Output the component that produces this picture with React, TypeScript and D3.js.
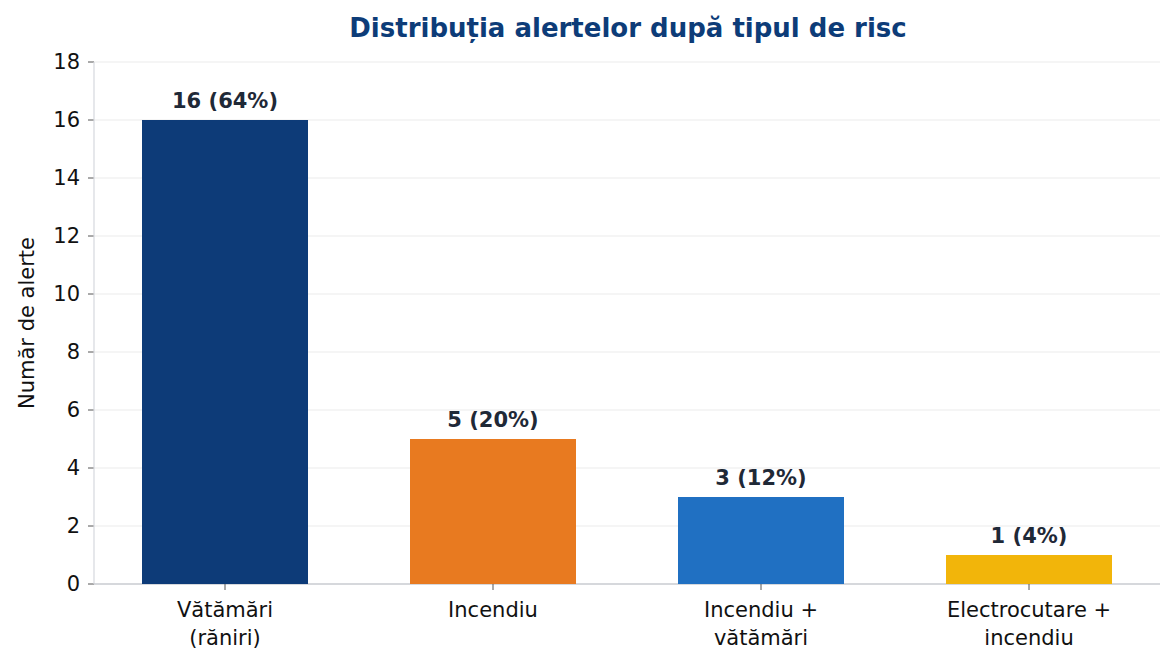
import React from "react";
import * as d3 from "d3";

const categories = [["Vătămări", "(răniri)"], ["Incendiu"], ["Incendiu +", "vătămări"], ["Electrocutare +", "incendiu"]];
const values = [16, 5, 3, 1];
const labels = ["16  (64%)", "5  (20%)", "3  (12%)", "1  (4%)"];
const colors = ["#0d3b78", "#e87a20", "#2070c2", "#f2b50a"];
const yTicks = [0, 2, 4, 6, 8, 10, 12, 14, 16, 18];

export default function App() {
  const W = 1176, H = 665;
  const x = d3.scaleLinear().domain([0, 3]).range([225, 1029]);
  const y = d3.scaleLinear().domain([0, 18]).range([584, 62]);
  const bw = 166;
  const font = "DejaVu Sans, sans-serif";
  return (
    <svg width={W} height={H} style={{ position: "absolute", left: 0, top: 0 }} fontFamily={font}>
      <rect width={W} height={H} fill="#fff" />
      {yTicks.map(t => (
        <g key={t}>
          {t > 0 && <line x1={94} x2={1160} y1={y(t)} y2={y(t)} stroke="#ebebeb" strokeWidth={1.2} />}
          <line x1={88} x2={94} y1={y(t)} y2={y(t)} stroke="#555" />
          <text x={80} y={y(t)} dy="0.35em" textAnchor="end" fontSize={21} fill="#111">{t}</text>
        </g>
      ))}
      <line x1={94} x2={94} y1={62} y2={584} stroke="#d5d8de" strokeWidth={1.2} />
      <line x1={94} x2={1160} y1={584} y2={584} stroke="#c8cbd0" strokeWidth={1.5} />
      {values.map((v, i) => (
        <g key={i}>
          <rect x={x(i) - bw / 2} y={y(v)} width={bw} height={y(0) - y(v)} fill={colors[i]} />
          <text x={x(i)} y={y(v) - 12} textAnchor="middle" fontSize={21} fontWeight="bold" fill="#1f2937">{labels[i]}</text>
          <line x1={x(i)} x2={x(i)} y1={584} y2={590} stroke="#555" />
          {categories[i].map((c, j) => (
            <text key={j} x={x(i)} y={617 + j * 28} textAnchor="middle" fontSize={21} fill="#111">{c}</text>
          ))}
        </g>
      ))}
      <text transform={`translate(34,323) rotate(-90)`} textAnchor="middle" fontSize={21} fill="#111">Număr de alerte</text>
      <text x={628} y={37} textAnchor="middle" fontSize={26} fontWeight="bold" fill="#0d3c78">Distribuția alertelor după tipul de risc</text>
    </svg>
  );
}
